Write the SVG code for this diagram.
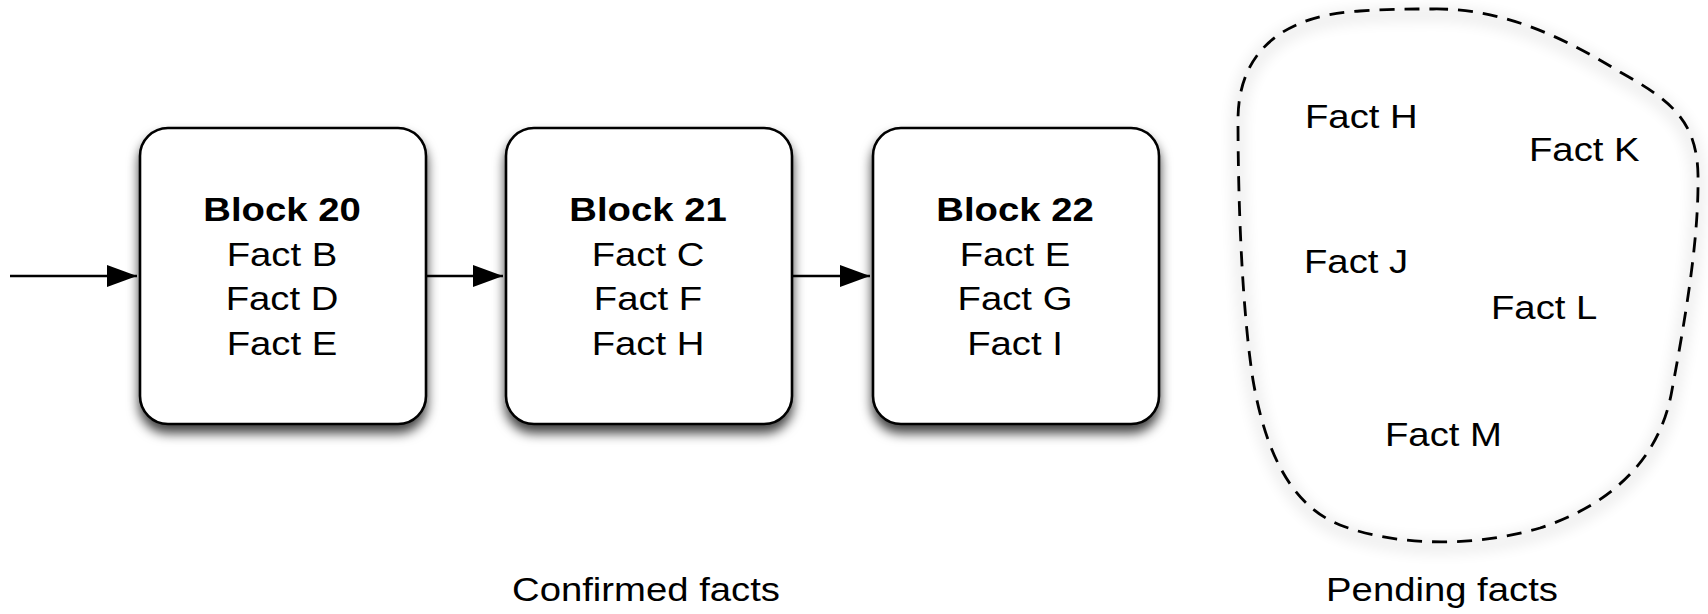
<svg xmlns="http://www.w3.org/2000/svg" width="1708" height="614" viewBox="0 0 1708 614">
<style>
  text { font-family: "Liberation Sans", Arial, Helvetica, sans-serif; font-size: 33px; fill: #000; }
  .b { font-weight: bold; }
  .box { fill: #fff; stroke: #000; stroke-width: 2.6; }
  .conn { stroke: #000; stroke-width: 2.4; fill: none; }
  .blob { fill: none; stroke: #000; stroke-width: 2.8; stroke-dasharray: 15 10; }
</style>
<defs>
  <filter id="shadow" x="-20%" y="-20%" width="140%" height="150%">
    <feDropShadow dx="0" dy="8" stdDeviation="6" flood-color="#000" flood-opacity="0.75"/>
  </filter>
  <filter id="glow" x="-20%" y="-20%" width="140%" height="140%">
    <feGaussianBlur stdDeviation="8"/>
  </filter>
  <marker id="arrow" markerUnits="userSpaceOnUse" markerWidth="30" markerHeight="22" viewBox="0 0 30 22" refX="30" refY="11" orient="auto">
    <path d="M0,0 L30,11 L0,22 Z" fill="#000"/>
  </marker>
</defs>
<rect width="1708" height="614" fill="#fff"/>

<g id="connectors">
  <line class="conn" x1="10" y1="276" x2="137" y2="276" marker-end="url(#arrow)"/>
  <line class="conn" x1="426" y1="276" x2="503" y2="276" marker-end="url(#arrow)"/>
  <line class="conn" x1="792" y1="276" x2="870" y2="276" marker-end="url(#arrow)"/>
</g>

<g id="block20">
  <rect class="box" x="140" y="128" width="286" height="296" rx="28" ry="28" filter="url(#shadow)"/>
  <text class="b" text-anchor="middle" transform="matrix(1.16 0 0 1 282 0)" x="0" y="221.5">Block 20</text>
  <text text-anchor="middle" transform="matrix(1.16 0 0 1 282 0)" x="0" y="266">Fact B</text>
  <text text-anchor="middle" transform="matrix(1.16 0 0 1 282 0)" x="0" y="310.5">Fact D</text>
  <text text-anchor="middle" transform="matrix(1.16 0 0 1 282 0)" x="0" y="355">Fact E</text>
</g>

<g id="block21">
  <rect class="box" x="506" y="128" width="286" height="296" rx="28" ry="28" filter="url(#shadow)"/>
  <text class="b" text-anchor="middle" transform="matrix(1.16 0 0 1 648 0)" x="0" y="221.5">Block 21</text>
  <text text-anchor="middle" transform="matrix(1.16 0 0 1 648 0)" x="0" y="266">Fact C</text>
  <text text-anchor="middle" transform="matrix(1.16 0 0 1 648 0)" x="0" y="310.5">Fact F</text>
  <text text-anchor="middle" transform="matrix(1.16 0 0 1 648 0)" x="0" y="355">Fact H</text>
</g>

<g id="block22">
  <rect class="box" x="873" y="128" width="286" height="296" rx="28" ry="28" filter="url(#shadow)"/>
  <text class="b" text-anchor="middle" transform="matrix(1.16 0 0 1 1015 0)" x="0" y="221.5">Block 22</text>
  <text text-anchor="middle" transform="matrix(1.16 0 0 1 1015 0)" x="0" y="266">Fact E</text>
  <text text-anchor="middle" transform="matrix(1.16 0 0 1 1015 0)" x="0" y="310.5">Fact G</text>
  <text text-anchor="middle" transform="matrix(1.16 0 0 1 1015 0)" x="0" y="355">Fact I</text>
</g>

<g id="pending">
  <path d="M1433 9 C1500 8 1560 35 1620 72 C1670 100 1697 120 1698 175 C1699 240 1685 320 1672 390 C1660 460 1610 505 1540 528 C1480 546 1400 548 1340 525 C1290 505 1265 450 1253 380 C1242 310 1238 200 1238 120 C1238 50 1285 15 1360 11 C1390 9 1410 9 1433 9 Z" fill="none" stroke="#000" stroke-width="6" opacity="0.16" filter="url(#glow)" transform="translate(0 5)"/>
  <path class="blob" d="M1433 9 C1500 8 1560 35 1620 72 C1670 100 1697 120 1698 175 C1699 240 1685 320 1672 390 C1660 460 1610 505 1540 528 C1480 546 1400 548 1340 525 C1290 505 1265 450 1253 380 C1242 310 1238 200 1238 120 C1238 50 1285 15 1360 11 C1390 9 1410 9 1433 9 Z"/>
  <text transform="matrix(1.16 0 0 1 1305 0)" x="0" y="128">Fact H</text>
  <text transform="matrix(1.16 0 0 1 1529 0)" x="0" y="161">Fact K</text>
  <text transform="matrix(1.16 0 0 1 1304 0)" x="0" y="273">Fact J</text>
  <text transform="matrix(1.16 0 0 1 1491 0)" x="0" y="319">Fact L</text>
  <text transform="matrix(1.16 0 0 1 1385 0)" x="0" y="446">Fact M</text>
</g>

<g id="labels">
  <text text-anchor="middle" transform="matrix(1.16 0 0 1 646 0)" x="0" y="601">Confirmed facts</text>
  <text text-anchor="middle" transform="matrix(1.16 0 0 1 1442 0)" x="0" y="601">Pending facts</text>
</g>
</svg>
